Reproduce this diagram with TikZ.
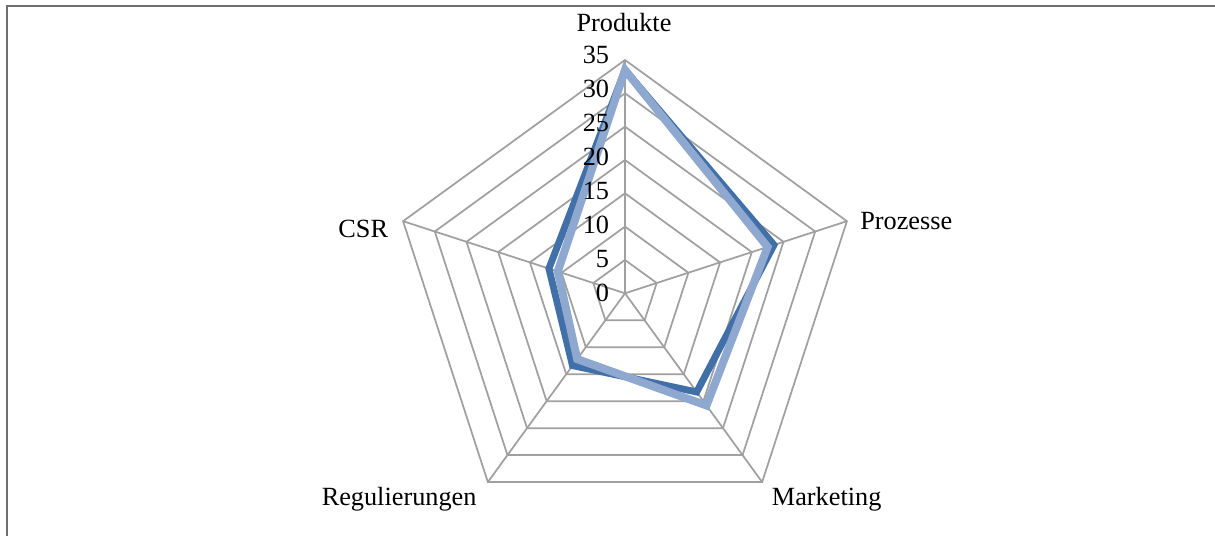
\documentclass[tikz,border=0pt]{standalone}
\usepackage{fontspec}
\setmainfont{Liberation Serif}
\definecolor{gridgray}{RGB}{160,160,160}
\definecolor{framegray}{RGB}{110,110,110}
\definecolor{seriesdark}{RGB}{65,112,168}
\definecolor{serieslight}{RGB}{142,168,208}
\tikzset{
  gridline/.style={draw=gridgray, line width=1.3pt},
  framel/.style={draw=framegray, line width=1.6pt},
  darkline/.style={draw=seriesdark, line width=5.2pt, line join=miter},
  lightline/.style={draw=serieslight, line width=6pt, line join=miter},
  lbl/.style={inner sep=0pt, font=\fontsize{19.7}{24}\selectfont, text=black},
}
\begin{document}
\begin{tikzpicture}[x=0.75pt,y=0.75pt]
\useasboundingbox (0,-536) rectangle (1215,0);
\fill[white] (0,-536) rectangle (1215,0);
% frame
\coordinate (fl) at (7,-536);
\coordinate (fc) at (7,-6);
\coordinate (fr) at (1215,-6);
\draw[framel] (fl) -- (fc) -- (fr);
\begin{scope}[shift={(625,-293.3)}]
  \coordinate (c) at (0,0);
  % rings
  \foreach \k in {1,...,7} {
    \draw[gridline] (90:{\k*33.333}) -- (18:{\k*33.333}) -- (-54:{\k*33.333}) -- (-126:{\k*33.333}) -- (162:{\k*33.333}) -- cycle;
  }
  % spokes
  \foreach \a/\n in {90/p,18/z,-54/m,-126/r,162/s} {
    \coordinate (v\n) at (\a:233.3);
    \draw[gridline] (c) -- (v\n);
  }
  % dark series
  \coordinate (dp) at (90:{33.5*6.6657});
  \coordinate (dz) at (18:{23.5*6.6657});
  \coordinate (dm) at (-54:{18.3*6.6657});
  \coordinate (dr) at (-126:{13.4*6.6657});
  \coordinate (ds) at (162:{12*6.6657});
  \draw[darkline] (dp) -- (dz) -- (dm) -- (dr) -- (ds) -- cycle;
  % light series
  \coordinate (lp) at (90:{33.5*6.6657});
  \coordinate (lz) at (18:{22.5*6.6657});
  \coordinate (lm) at (-54:{20.8*6.6657});
  \coordinate (lr) at (-126:{12.2*6.6657});
  \coordinate (ls) at (162:{10.6*6.6657});
  \draw[lightline] (lp) -- (lz) -- (lm) -- (lr) -- (ls) -- cycle;
  % axis numbers
  \foreach \v [count=\i from 0] in {0,5,10,15,20,25,30,35} {
    \node[lbl, anchor=base east] (n\v) at (-15.7,{-8.4+\i*33.96}) {\v};
  }
\end{scope}
% category labels
\node[lbl, anchor=base] (produkte) at (624,-31.7) {Produkte};
\node[lbl, anchor=base west] (prozesse) at (860,-229.3) {Prozesse};
\node[lbl, anchor=base east] (csr) at (388.3,-237) {CSR};
\node[lbl, anchor=base west] (marketing) at (771.7,-505) {Marketing};
\node[lbl, anchor=base east] (regul) at (476.7,-505) {Regulierungen};
\end{tikzpicture}
\end{document}
